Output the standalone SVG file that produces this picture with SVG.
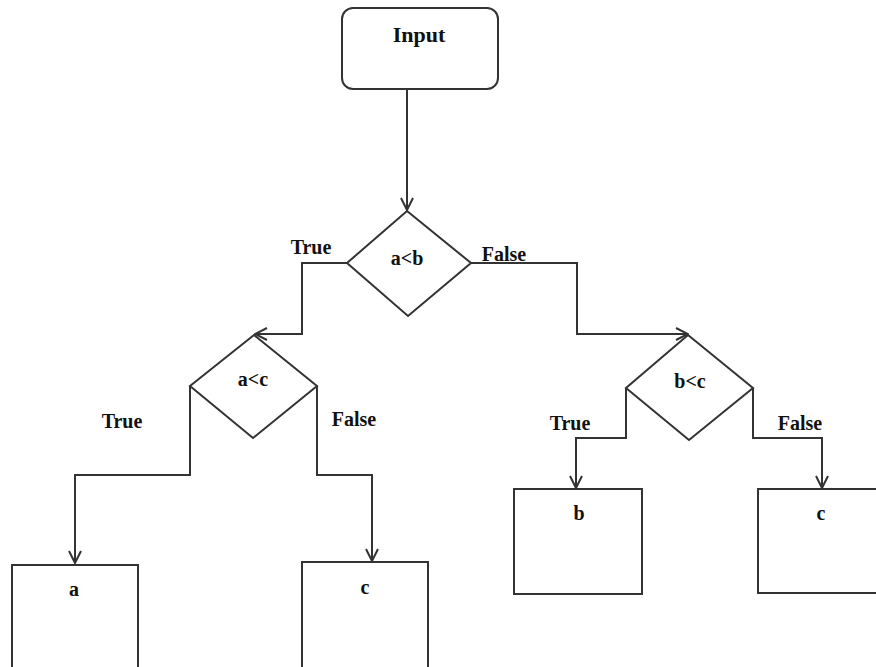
<svg xmlns="http://www.w3.org/2000/svg" width="876" height="667" viewBox="0 0 876 667">
<style>
.shape{fill:#fff;stroke:#333;stroke-width:2}
.conn{fill:none;stroke:#333;stroke-width:2}
text{font-family:"Liberation Serif","Times New Roman",serif;font-weight:bold;font-size:20px;fill:#111;text-anchor:middle}
</style>
<defs>
<marker id="arr" viewBox="0 0 14 14" refX="13" refY="7" markerWidth="14" markerHeight="14" markerUnits="userSpaceOnUse" orient="auto">
<polyline points="1,1 13,7 1,13" fill="none" stroke="#333" stroke-width="2"/>
</marker>
</defs>
<rect width="876" height="667" fill="#fff"/>
<g id="connectors">
<path class="conn" d="M407,89 V210" marker-end="url(#arr)"/>
<path class="conn" d="M347,263 H302 V334 H255" marker-end="url(#arr)"/>
<path class="conn" d="M471,263 H577 V334 H688" marker-end="url(#arr)"/>
<path class="conn" d="M190,386 V475 H75 V563" marker-end="url(#arr)"/>
<path class="conn" d="M317,386 V475 H372 V561" marker-end="url(#arr)"/>
<path class="conn" d="M626,388 V438 H576 V488" marker-end="url(#arr)"/>
<path class="conn" d="M753,388 V438 H822 V488" marker-end="url(#arr)"/>
<text x="311" y="254">True</text>
<text x="504" y="261">False</text>
<text x="122" y="428">True</text>
<text x="354" y="426">False</text>
<text x="570" y="430">True</text>
<text x="800" y="430">False</text>
</g>
<g id="input">
<rect class="shape" x="342" y="8" width="156" height="81" rx="11"/>
<text x="419" y="42" style="font-size:22px">Input</text>
</g>
<g id="d_ab">
<polygon class="shape" points="407,211 471,263 408,316 347,263"/>
<text x="407" y="265">a&lt;b</text>
</g>
<g id="d_ac">
<polygon class="shape" points="254,335 317,386 253,438 190,386"/>
<text x="253" y="386">a&lt;c</text>
</g>
<g id="d_bc">
<polygon class="shape" points="688,335 753,388 689,440 626,388"/>
<text x="690" y="388">b&lt;c</text>
</g>
<g id="box_a">
<rect class="shape" x="12" y="565" width="126" height="105"/>
<text x="74" y="596">a</text>
</g>
<g id="box_c1">
<rect class="shape" x="302" y="562" width="126" height="108"/>
<text x="365" y="594">c</text>
</g>
<g id="box_b">
<rect class="shape" x="514" y="489" width="128" height="105"/>
<text x="579" y="520">b</text>
</g>
<g id="box_c2">
<rect class="shape" x="758" y="489" width="130" height="104"/>
<text x="821" y="520">c</text>
</g>
</svg>
